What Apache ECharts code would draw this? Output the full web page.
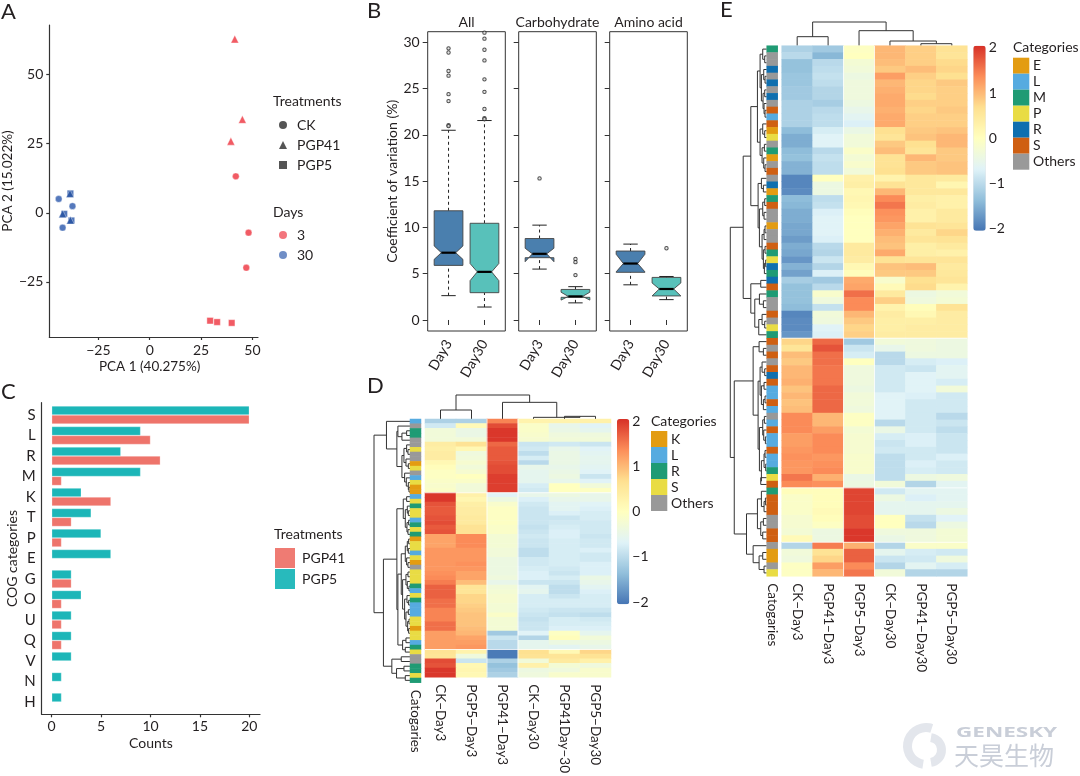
<!DOCTYPE html>
<html lang="en" style="background: #FFFFFF;height: 100%">
<head>
  <meta charset="utf-8" />
  <title>PCA, CV, COG and heatmap panels</title>
  <script src="https://cdn.jsdelivr.net/npm/echarts@6/dist/echarts.min.js"></script>
</head>
<body style="margin: 0;height: 100%">
<div id="chart" style="width: 1080px;height: 776px"></div>
<script>
// panel A, [PCA1, PCA2]
const pcaCkDay3 = [[41.9, 13.2], [48.1, -7.2], [47, -19.9]];
const pcaPgp41Day3 = [[41.4, 62.9], [45.1, 33.8], [39.5, 25.9]];
const pcaPgp5Day3 = [[29.4, -39.1], [32.8, -39.6], [39.9, -39.9]];
const pcaCkDay30 = [[-44.3, 5], [-37.6, 2.4], [-42.4, -5.4]];
const pcaPgp41Day30 = [[-38.8, 6.9], [-42.4, -0.4], [-38.6, -2.7]];
const pcaPgp5Day30 = [[-38.6, 7], [-41.6, -0.4], [-38.1, -2.8]];

// panel B, [pos, low, q1, notchLow, median, notchUp, q3, high]
const dayLabels = ['Day3', 'Day30'];
const boxAll = [[1, 2.63, 5.9, 6.55, 7.27, 8, 11.8, 20.5], [2, 1.4, 2.95, 4.25, 5.2, 6.1, 10.45, 21.55]];
const boxCarbo = [[1, 5.5, 6.73, 6.3, 7.15, 7.75, 8.8, 10.25], [2, 1.85, 2.45, 2.15, 2.55, 3, 3.3, 3.6]];
const boxAmino = [[1, 3.8, 5.15, 5.2, 6.1, 7.1, 7.45, 8.2], [2, 2.2, 2.6, 2.6, 3.35, 4, 4.6, 4.7]];
const outAll = [[1, 29.35], [1, 28.9], [1, 26.9], [1, 26.4], [1, 24.4], [1, 23.65], [1, 21.05], [1, 20.95],
  [2, 31.05], [2, 30.4], [2, 29.2], [2, 28.05], [2, 26], [2, 24.65], [2, 22.8], [2, 21.8], [2, 21.7]];
const outCarbo = [[1, 15.3], [2, 6.6], [2, 6.25], [2, 4.85]];
const outAmino = [[2, 7.75]];
const cvTicks = [0, 5, 10, 15, 20, 25, 30];

// panel C
const cogCats = ['S', 'L', 'R', 'M', 'K', 'T', 'P', 'E', 'G', 'O', 'U', 'Q', 'V', 'N', 'H'];
const cogPgp5 = [20, 9, 7, 9, 3, 4, 5, 6, 2, 3, 2, 2, 2, 1, 1];
const cogPgp41 = [20, 10, 11, 1, 6, 2, 1, 0, 2, 1, 1, 1, 0, 0, 0];

// panel D
const colsD = ['CK−Day3', 'PGP5−Day3', 'PGP41−Day3', 'CK−Day30', 'PGP41Day−30', 'PGP5−Day30'];
const annoD = 'LORROOSOOKSOLSKK' + 'LSRSSLRSRKSSLSKOSSSRLSRLLLSSKSSLRS' + 'OORRSR';
const heatD = [
  [-1.1, -1.1, 1.4, 0.25, 0.25, 0.3], [-0.8, 0.1, 1.8, -0.1, -0.5, -0.65], [-0.3, -0.45, 1.95, -0.1, -0.45, -0.55],
  [-0.3, -0.45, 1.95, -0.15, -0.35, -0.35], [-0.3, -0.3, 1.95, -0.2, -0.3, -0.3], [0.4, 0.6, 1.6, -0.85, -0.8, -0.85],
  [0.35, 0.15, 1.7, -0.8, -0.5, -0.65], [0.4, -0.35, 1.7, -0.95, -0.45, -0.6], [0.4, -0.3, 1.7, -0.75, -0.45, -0.55],
  [0.15, -0.2, 1.75, -1, -0.45, -0.55], [0.05, -0.3, 1.8, -0.5, -0.5, -0.6], [-0.05, -0.2, 1.8, -0.55, -0.45, -0.65],
  [-0.05, 0, 1.9, -0.55, -0.4, -0.85], [-0.1, -0.1, 1.9, -0.55, -0.5, -0.65], [-0.15, -0.3, 1.9, -0.75, 0, -0.3],
  [-0.1, -0.3, 1.9, -0.8, 0, -0.05],
  [1.95, 0.3, -0.65, -0.5, -0.4, -0.5], [1.95, 0.2, -0.4, -0.7, -0.5, -0.5], [1.75, 0.35, -0.15, -0.8, -0.6, -0.65],
  [1.7, 0.4, -0.05, -0.85, -0.6, -0.7], [1.7, 0.4, -0.05, -0.85, -0.7, -0.75], [1.75, 0.45, -0.05, -0.85, -0.85, -0.75],
  [1.8, 0.45, -0.05, -0.85, -0.8, -0.8], [1.7, 0.6, -0.1, -0.9, -0.75, -0.8], [1.75, 0.6, -0.1, -0.85, -0.7, -0.8],
  [1.15, 1.35, -0.25, -0.8, -0.7, -0.85], [1.15, 1.35, -0.25, -0.85, -0.75, -0.8], [1.15, 1.35, -0.25, -0.85, -0.75, -0.8],
  [1.25, 1.25, -0.3, -0.95, -0.75, -0.7], [1.25, 1.25, -0.3, -0.95, -0.75, -0.8], [1.25, 1.25, -0.4, -0.8, -0.75, -0.8],
  [1.25, 1.3, -0.4, -0.8, -0.75, -0.7], [1.25, 1.25, -0.4, -0.75, -0.8, -0.7], [1.3, 1.15, -0.4, -0.7, -0.85, -0.7],
  [1.35, 1.15, -0.35, -0.7, -0.75, -0.45], [1.45, 0.95, -0.5, -0.85, -0.85, -0.5], [1.65, 0.55, -0.3, -0.6, -0.95, -0.6],
  [1.65, 0.55, -0.25, -0.55, -0.95, -0.7], [1.65, 0.75, -0.2, -0.75, -0.85, -0.75], [1.55, 0.75, -0.2, -0.75, -0.75, -0.75],
  [1.55, 0.8, -0.25, -0.75, -0.75, -0.75], [1.4, 0.85, -0.25, -0.8, -0.85, -0.85], [1.4, 0.9, -0.1, -0.85, -0.9, -0.95],
  [1.4, 0.9, -0.25, -0.9, -0.75, -0.8], [1.55, 0.9, -0.25, -0.85, -0.75, -0.75], [1.55, 0.95, -0.25, -0.85, -0.7, -0.7],
  [1.2, 1, -1.2, -0.65, -0.05, -0.55], [1.2, 1.15, -0.85, -1.05, 0.05, -0.3], [1.2, 1.2, -1, -0.55, -0.4, -0.4],
  [1.2, 1.25, -1, -0.55, -0.6, -0.5],
  [0.6, 0.25, -1.95, 0.65, 0.15, 0.75], [0.55, -0.35, -1.95, 0.6, 0.55, 0.6], [1.8, -0.85, -1.1, -0.3, 0.45, 0.3],
  [1.75, 0.15, -1.3, 0.3, -0.25, -0.35], [1.95, 0.2, -1.2, -0.4, -0.35, -0.15], [1.95, 0.15, -1.1, -0.35, -0.15, -0.15]
];
// trees are [height, child, child], a leaf is 0 and leaves run in row order
const treeColsD = [72, [27, 0, 0], [50, 0, [5, 0, [8, 0, 0]]]];
const treeRowsD = [107,
  [70, 0, [39, [36, 0, [24, [10, 0, 0], 0]],
    [24, [18, [10, 0, [6, 0, 0]], [12, 0, [5, 0, 0]]], [16, 0, [11, 0, [5, 0, [3, 0, 0]]]]]]],
  [79,
    [39, [20, [10, 0, 0], [14, [8, 0, [5, 0, 0]], [9, [4, 0, 0], [6, 0, 0]]]],
      [36,
        [26, [14, [8, [4, 0, 0], [5, 0, 0]], [10, 0, [6, 0, 0]]],
          [22, [12, [6, 0, 0], [8, 0, [3, 0, 0]]], [16, [9, 0, [4, 0, 0]], [12, [5, 0, 0], [7, [3, 0, 0], [4, 0, 0]]]]]],
        [22, [12, 0, 0], [14, 0, 0]]]],
    [54, [26, 0, 0], [40, [18, 0, 0], [14, 0, 0]]]]];
const gapRowsD = [16, 50];
const gapColsD = [2, 3];

// panel E
const colsE = ['CK−Day3', 'PGP41−Day3', 'PGP5−Day3', 'CK−Day30', 'PGP41−Day30', 'PGP5−Day30'];
const annoE = 'MOOROROROSLSEPOMEOSOREMSOOEOOSMPRMRSMOOSOPM' + 'SOSOSRSLLSLOLSLLSLLMPS' + 'MSSSOOSS' + 'OEEOP';
const heatE = [
  [-1.1, -1.2, -0.05, 1, 0.8, 0.6], [-1, -1.4, 0, 1, 0.8, 0.55], [-1.3, -1, -0.25, 0.95, 0.8, 0.7],
  [-1.3, -0.95, -0.3, 0.85, 0.95, 0.75], [-1.25, -0.9, -0.4, 1.2, 0.8, 0.65], [-1.25, -0.95, -0.35, 1, 0.75, 0.85],
  [-1.2, -1.05, -0.35, 1.05, 0.75, 0.8], [-1.2, -1.05, -0.35, 1.1, 0.7, 0.8], [-1.1, -1.15, -0.4, 1.1, 0.8, 0.8],
  [-1.1, -1, -0.5, 1.05, 0.75, 0.85], [-1.1, -0.95, -0.6, 1.1, 0.8, 0.8], [-1.1, -0.95, -0.7, 1.1, 0.8, 0.8],
  [-1.35, -0.75, -0.45, 0.65, 0.85, 0.9], [-1.5, -0.65, -0.3, 0.55, 0.9, 1], [-1.5, -0.65, -0.3, 0.85, 0.65, 1],
  [-1.35, -1, -0.1, 0.95, 0.55, 0.85], [-1.3, -0.9, -0.25, 0.6, 1, 0.85], [-1.45, -0.95, -0.15, 0.6, 0.85, 0.9],
  [-1.45, -0.95, -0.3, 0.65, 0.85, 0.9], [-1.85, 0, 0.3, 0.25, 0.5, 0.45], [-1.85, -0.4, 0.35, 0.6, 0.5, 0.2],
  [-1.8, -0.4, 0.15, 1, 0.5, 0.5], [-1.35, -0.95, 0.2, 1.35, 0.35, 0.3], [-1.4, -0.9, 0.15, 1.5, 0.4, 0.3],
  [-1.5, -0.7, 0.05, 1.3, 0.3, 0.45], [-1.5, -0.65, 0, 1.25, 0.3, 0.45], [-1.55, -0.65, 0, 1.15, 0.6, 0.55],
  [-1.55, -0.65, 0, 1.05, 0.45, 0.75], [-1.65, -0.7, 0, 0.95, 0.55, 0.6], [-1.5, -1, 0.45, 0.9, 0.35, 0.45],
  [-1.55, -1.05, 0.45, 1.1, 0.35, 0.3], [-1.7, -0.85, 0.4, 0.6, 0.55, 0.55], [-1.45, -1.05, 0.15, 0.9, 0.95, 0.45],
  [-1.6, -0.7, 0.05, 0.85, 0.85, 0.5], [-1.15, -1.2, 1.1, -0.15, 0.65, 0.55], [-1.3, -1, 1.15, 0.1, 0.7, 0.25],
  [-1.3, -0.15, 1.55, 0.45, -0.4, -0.3], [-1.3, -0.35, 1.35, 0.8, -0.35, -0.25], [-1.35, -0.9, 1.35, 0.25, 0.05, 0.6],
  [-1.85, -0.3, 1, 0.4, 0.15, 0.4], [-1.8, -0.35, 0.85, 0.35, 0.35, 0.4], [-1.8, -0.65, 0.75, 0.35, 0.4, 0.4],
  [-1.7, -0.7, 0.8, 0.4, 0.4, 0.4],
  [0.75, 1.6, -1.2, -0.3, -0.35, -0.4], [0.55, 1.75, -0.85, -0.5, -0.35, -0.4], [0.95, 1.55, -0.75, -1, -0.4, -0.4],
  [0.85, 1.55, 0, -1, -0.75, -0.7], [1, 1.5, -0.35, -0.8, -0.85, -0.6], [1, 1.5, -0.35, -0.8, -0.65, -0.6],
  [1.05, 1.5, -0.35, -0.8, -0.65, -0.75], [0.9, 1.6, -0.4, -0.8, -0.65, -0.3], [1, 1.6, -0.3, -0.65, -0.7, -0.8],
  [0.9, 1.6, -0.3, -0.65, -0.8, -0.8], [0.95, 1.6, -0.35, -0.65, -0.8, -0.8], [1.35, 1, -0.05, -0.65, -0.8, -1],
  [1.35, 1, -0.05, -1, -0.8, -0.85], [1.35, 1.2, -0.25, -0.45, -0.8, -0.95], [1.2, 1.35, -0.2, -0.75, -0.7, -0.85],
  [1.2, 1.35, -0.2, -0.85, -0.7, -0.85], [1.25, 1.35, -0.2, -0.8, -0.8, -0.85], [1.3, 1.25, -0.15, -0.95, -0.8, -0.7],
  [1.25, 1.3, -0.15, -0.95, -0.7, -0.8], [1.25, 1.35, -0.15, -0.95, -0.75, -0.8], [1.5, 1.05, -0.45, -0.95, -0.4, -0.35],
  [1.35, 1.3, -0.4, -0.3, -1.05, -0.6],
  [0.05, 0.05, 1.85, -0.8, -0.6, -0.6], [-0.1, 0.05, 1.85, -0.4, -0.7, -0.6], [-0.1, 0.05, 1.85, -0.55, -0.55, -0.55],
  [-0.1, 0.1, 1.85, -0.55, -0.55, -0.4], [-0.2, 0.05, 1.8, 0, -0.9, -0.65], [-0.2, -0.05, 1.8, 0, -1, -0.4],
  [-0.25, -0.4, 1.95, -0.35, -0.35, -0.25], [0.1, -0.4, 1.95, -0.45, -0.35, -0.25],
  [-1.05, 1.45, 1.05, -1.05, -0.1, -0.1], [-0.3, 0.6, 1.65, -0.55, -0.75, -0.8], [-0.35, 0.75, 1.65, -0.85, -0.8, -0.35],
  [-0.05, 1.2, 1.35, -1.05, -0.6, -0.75], [-0.05, 1, 1.5, -0.3, -1.05, -1.05]
];
const treeColsE = [71, [27, 0, 0], [45, 0, [14, 0, [6, 0, 0]]]];
const treeRowsE = [110,
  [71,
    [48,
      [28,
        [20, [12, 0, [6, 0, 0]], [16, [9, 0, [5, 0, 0]], [11, [6, 0, 0], [8, 0, [5, 0, 0]]]]],
        [20, [12, 0, [6, 0, 0]], [14, [7, 0, 0], [9, 0, [5, 0, 0]]]]],
      [26, [16, 0, [10, 0, 0]],
        [22, [12, [6, 0, 0], [8, 0, 0]], [14, [8, [5, 0, 0], 0], [10, [5, 0, 0], [7, [3, 0, 0], 0]]]]]],
    [48, [18, 0, 0], [36, [22, 0, [10, 0, 0]], [24, [14, 0, [6, 0, 0]], 0]]]],
  [98,
    [41, [23, 0, [10, 0, 0]],
      [26, [20, [14, 0, [6, 0, 0]], [16, [8, 0, 0], [10, [5, 0, 0], 0]]],
        [22, [12, [7, 0, 0], [9, 0, [4, 0, 0]]], [16, [8, [5, 0, 0], [3, 0, 0]], [18, 0, 0]]]]],
    [61, [28, [16, 0, [8, [4, 0, 0], 0]], [18, [10, 0, 0], [12, 0, 0]]], [41, 0, [23, [12, 0, 0], [8, 0, 0]]]]]];
const gapRowsE = [43, 65, 73];
const gapColsE = [2, 3];

const barTicks = [-2, -1, 0, 1, 2];
const rampColors = ['#4575B4', '#91BFDB', '#E0F3F8', '#FFFFBF', '#FEE090', '#FC8D59', '#D73027'];
const catColors = { E: '#E39C12', K: '#E39C12', L: '#56ABE0', M: '#1F9B74', P: '#E9DC44', R: '#0F6FAF', S: '#CF5F12', O: '#999999' };
const catColorsD = Object.assign({}, catColors, { R: '#1F9B74', S: '#E9DC44' });
const legendD = [['K', 'K'], ['L', 'L'], ['R', 'R'], ['S', 'S'], ['O', 'Others']];
const legendE = [['E', 'E'], ['L', 'L'], ['M', 'M'], ['P', 'P'], ['R', 'R'], ['S', 'S'], ['O', 'Others']];

const FONT = 'Lato';
const INK = '#231F20';
const RED = '#F0525C';
const BLUE = '#4C72B8';
const lineDark = { color: '#333', width: 1.2 };

const grids = [], xAxes = [], yAxes = [], series = [], graphics = [];

// every grid owns exactly one x and one y axis, so the index is shared
function addPanel(left, top, right, bottom, x, y, extra) {
  const i = grids.length;
  grids.push(Object.assign({ left, top, width: right - left, height: bottom - top }, extra));
  xAxes.push(Object.assign({ gridIndex: i, splitLine: { show: false } }, x));
  yAxes.push(Object.assign({ gridIndex: i, splitLine: { show: false } }, y));
  return i;
}
function text(x, y, str, size, opts) {
  graphics.push({ type: 'text', x, y, silent: true,
    style: Object.assign({ text: str, fontSize: size, fontFamily: FONT, fill: INK, textVerticalAlign: 'middle' }, opts) });
}
const hidden = { show: false };
const minus = v => String(v).replace('-', '−');

// panel A
const gridA = addPanel(44, 25, 258, 337,
  { type: 'value', min: -48.9, max: 52.7, name: 'PCA 1 (40.275%)', nameLocation: 'middle', nameGap: 23,
    nameTextStyle: { fontSize: 13.5, color: INK, padding: [0, 8, 0, 0] },
    axisLine: { lineStyle: lineDark, onZero: false }, axisTick: { customValues: [-25, 0, 25, 50], length: 3, lineStyle: lineDark },
    axisLabel: { customValues: [-25, 0, 25, 50], formatter: minus, fontSize: 14, color: INK, margin: 6 } },
  { type: 'value', min: -45, max: 68, name: 'PCA 2 (15.022%)', nameLocation: 'middle', nameGap: 27,
    nameTextStyle: { fontSize: 13.5, color: INK },
    axisLine: { lineStyle: lineDark, onZero: false }, axisTick: { customValues: [-25, 0, 25, 50], length: 3, lineStyle: lineDark },
    axisLabel: { customValues: [-25, 0, 25, 50], formatter: minus, fontSize: 14, color: INK, margin: 6 } });
[['CK', 'circle', 6.8, pcaCkDay3, RED, 0.95], ['CK', 'circle', 6.8, pcaCkDay30, BLUE, 0.95],
 ['PGP5', 'rect', 6.5, pcaPgp5Day3, RED, 0.95], ['PGP5', 'rect', 6.5, pcaPgp5Day30, '#3F68B2', 0.9],
 ['PGP41', 'triangle', 7.8, pcaPgp41Day3, RED, 0.95], ['PGP41', 'triangle', 7.8, pcaPgp41Day30, '#2A55A3', 0.9]].forEach(s => {
  series.push({ type: 'scatter', name: s[0], xAxisIndex: gridA, yAxisIndex: gridA, data: s[3], symbol: s[1], symbolSize: s[2],
    itemStyle: { color: s[4], opacity: s[5], borderColor: '#fff', borderWidth: 0.4 } });
});
series.push({ type: 'scatter', name: '3', xAxisIndex: gridA, yAxisIndex: gridA, data: [], itemStyle: { color: RED } });
series.push({ type: 'scatter', name: '30', xAxisIndex: gridA, yAxisIndex: gridA, data: [], itemStyle: { color: BLUE } });

// panel B
function renderBox(p, api) {
  const v = i => api.value(i), pos = v(0), c = (x, y) => api.coord([x, y]);
  const fill = pos === 1 ? '#4A7FAE' : '#58C1BA';
  const seg = (a, b, dashed) => ({ type: 'line', shape: { x1: a[0], y1: a[1], x2: b[0], y2: b[1] },
    style: { stroke: '#222', lineWidth: 1, lineDash: dashed ? [3, 3] : null } });
  return { type: 'group', children: [
    seg(c(pos, v(1)), c(pos, v(2)), true), seg(c(pos, v(6)), c(pos, v(7)), true),
    seg(c(pos - 0.2, v(1)), c(pos + 0.2, v(1))), seg(c(pos - 0.2, v(7)), c(pos + 0.2, v(7))),
    { type: 'polygon', shape: { points: [
      c(pos - 0.4, v(2)), c(pos + 0.4, v(2)), c(pos + 0.4, v(3)), c(pos + 0.2, v(4)), c(pos + 0.4, v(5)), c(pos + 0.4, v(6)),
      c(pos - 0.4, v(6)), c(pos - 0.4, v(5)), c(pos - 0.2, v(4)), c(pos - 0.4, v(3))] },
      style: { fill, stroke: '#444', lineWidth: 0.9 } },
    { type: 'line', shape: { x1: c(pos - 0.2, v(4))[0], y1: c(pos, v(4))[1], x2: c(pos + 0.2, v(4))[0], y2: c(pos, v(4))[1] },
      style: { stroke: '#000', lineWidth: 2.2 } }
  ] };
}
[[427.7, 505.3, boxAll, outAll, 'All'], [518.7, 596.3, boxCarbo, outCarbo, 'Carbohydrate'], [609.7, 687.3, boxAmino, outAmino, 'Amino acid']].forEach((b, k) => {
  const g = addPanel(b[0], 31.7, b[1], 331,
    { type: 'value', min: 0.42, max: 2.58, axisLine: hidden,
      axisTick: { customValues: [1, 2], length: 5, lineStyle: { color: '#333' } },
      axisLabel: { customValues: [1, 2], formatter: v => dayLabels[v - 1], rotate: 60, fontSize: 14, color: INK, margin: 10 } },
    { type: 'value', min: -1.19, max: 31.15, axisLine: hidden,
      name: k === 0 ? 'Coefficient of variation (%)' : '', nameLocation: 'middle', nameGap: 28, nameTextStyle: { fontSize: 14, color: INK },
      axisTick: { customValues: cvTicks, length: 5, lineStyle: { color: '#333' } },
      axisLabel: k === 0 ? { customValues: cvTicks, fontSize: 14, color: INK, margin: 8 } : { show: false } },
    { show: true, borderColor: '#333', borderWidth: 1, backgroundColor: 'transparent' });
  series.push({ type: 'custom', xAxisIndex: g, yAxisIndex: g, renderItem: renderBox, data: b[2], silent: true, encode: { x: 0, y: [1, 7] } });
  series.push({ type: 'scatter', xAxisIndex: g, yAxisIndex: g, data: b[3], symbol: 'circle', symbolSize: 3.4, silent: true,
    itemStyle: { color: '#ddd', borderColor: '#222', borderWidth: 1 } });
  text((b[0] + b[1]) / 2, 22, b[4], 14, { textAlign: 'center' });
});

// panel C, outer grid holds the axis lines, inner one the bars
const countsTicks = [0, 5, 10, 15, 20];
addPanel(41.7, 402.7, 260, 714.3,
  { type: 'value', min: -1.01, max: 21.08, name: 'Counts', nameLocation: 'middle', nameGap: 22, nameTextStyle: { fontSize: 14, color: INK },
    axisLine: { lineStyle: lineDark, onZero: false }, axisTick: { customValues: countsTicks, length: 3, lineStyle: lineDark },
    axisLabel: { customValues: countsTicks, fontSize: 14, color: INK, margin: 5 } },
  { type: 'value', min: 0, max: 1, axisLine: { lineStyle: lineDark, onZero: false }, axisTick: hidden, axisLabel: hidden,
    name: 'COG categories', nameLocation: 'middle', nameGap: 22, nameTextStyle: { fontSize: 14, color: INK } });
const gridC = addPanel(41.7, 404.75, 260, 712.25,
  { type: 'value', min: -1.01, max: 21.08, axisLine: hidden, axisTick: hidden, axisLabel: hidden },
  { type: 'category', inverse: true, data: cogCats, axisLine: hidden, axisTick: { length: 3, alignWithLabel: true, lineStyle: lineDark },
    axisLabel: { fontSize: 15, color: INK, margin: 6 } });
[['PGP5', cogPgp5, '#1CB6B8'], ['PGP41', cogPgp41, '#EE746B']].forEach(s => {
  series.push({ type: 'bar', name: s[0], xAxisIndex: gridC, yAxisIndex: gridC, data: s[1], barWidth: 9, barGap: 0,
    itemStyle: { color: s[2], borderColor: 'rgba(255,255,255,0.45)', borderWidth: 0.6 } });
});

// heatmap panels
function treeSegments(tree) {
  let leaf = 0;
  const segs = [];
  (function walk(n) {
    if (n === 0) return { pos: leaf++, h: 0 };
    const a = walk(n[1]), b = walk(n[2]);
    segs.push([a.h, a.pos, n[0], a.pos], [b.h, b.pos, n[0], b.pos], [n[0], a.pos, n[0], b.pos]);
    return { pos: (a.pos + b.pos) / 2, h: n[0] };
  })(tree);
  return segs;
}
function renderSeg(p, api) {
  const a = api.coord([api.value(0), api.value(1)]), b = api.coord([api.value(2), api.value(3)]);
  return { type: 'line', shape: { x1: a[0], y1: a[1], x2: b[0], y2: b[1] }, style: { stroke: '#333', lineWidth: 1 } };
}
function renderGap(p, api) {
  const cs = p.coordSys, s = api.size([1, 1]);
  if (api.value(0) === 0) {
    const y = api.coord([0, api.value(1)])[1] - s[1] / 2;
    return { type: 'line', shape: { x1: cs.x, y1: y, x2: cs.x + cs.width, y2: y }, style: { stroke: '#fff', lineWidth: 0.8 } };
  }
  const x = api.coord([api.value(1), 0])[0] - s[0] / 2;
  return { type: 'line', shape: { x1: x, y1: cs.y, x2: x, y2: cs.y + cs.height }, style: { stroke: '#fff', lineWidth: 0.8 } };
}
const heatSeries = [];
function addHeat(h) {
  const n = h.values.length, rowNames = h.values.map((r, i) => String(i));
  const colLabel = { interval: 0, rotate: -90, fontSize: 13.5, color: INK, margin: 7 };
  const gTop = addPanel(h.x0, h.topY, h.x1, h.y0,
    { type: 'value', min: -0.5, max: 5.5, show: false }, { type: 'value', min: 0, max: h.topMax, show: false });
  series.push({ type: 'custom', xAxisIndex: gTop, yAxisIndex: gTop, renderItem: renderSeg, silent: true,
    data: treeSegments(h.treeCols).map(s => [s[1], s[0], s[3], s[2]]), encode: { x: [0, 2], y: [1, 3] } });
  const gLeft = addPanel(h.dendroX, h.y0, h.annoX0, h.y1,
    { type: 'value', min: 0, max: h.leftMax, inverse: true, show: false },
    { type: 'value', min: -0.5, max: n - 0.5, inverse: true, show: false });
  series.push({ type: 'custom', xAxisIndex: gLeft, yAxisIndex: gLeft, renderItem: renderSeg, silent: true,
    data: treeSegments(h.treeRows), encode: { x: [0, 2], y: [1, 3] } });
  const gAnno = addPanel(h.annoX0, h.y0, h.annoX1, h.y1,
    { type: 'category', data: ['Catogaries'], axisLine: hidden, axisTick: hidden, axisLabel: colLabel },
    { type: 'category', inverse: true, data: rowNames, show: false });
  series.push({ type: 'heatmap', xAxisIndex: gAnno, yAxisIndex: gAnno, silent: true,
    data: h.anno.split('').map((c, i) => ({ value: [0, i, 0], itemStyle: { color: h.colors[c] } })) });
  const gHeat = addPanel(h.x0, h.y0, h.x1, h.y1,
    { type: 'category', data: h.cols, axisLine: hidden, axisTick: hidden, axisLabel: colLabel },
    { type: 'category', inverse: true, data: rowNames, show: false });
  const data = [];
  h.values.forEach((row, i) => row.forEach((v, j) => data.push([j, i, v])));
  heatSeries.push(series.length);
  series.push({ type: 'heatmap', xAxisIndex: gHeat, yAxisIndex: gHeat, data, silent: true });
  series.push({ type: 'custom', xAxisIndex: gHeat, yAxisIndex: gHeat, renderItem: renderGap, silent: true, z: 5,
    data: h.gapRows.map(r => [0, r]).concat(h.gapCols.map(c => [1, c])) });
  // colour bar ticks come from a value axis over the bar
  addPanel(h.barX0, h.barY0, h.barX1, h.barY1,
    { type: 'value', min: 0, max: 1, show: false },
    { type: 'value', min: -2.05, max: 2.05, position: 'right', axisLine: hidden, axisTick: hidden,
      axisLabel: { customValues: barTicks, formatter: minus, fontSize: 14, color: INK, margin: 3 } });
  text(h.legendX, h.legendTitleY, 'Categories', 14, {});
  h.legend.forEach((l, i) => {
    graphics.push({ type: 'rect', silent: true, shape: { x: h.legendX, y: h.legendY + i * 16, width: 16.3, height: 16 }, style: { fill: h.colors[l[0]] } });
    text(h.legendX + 20, h.legendY + i * 16 + 8, l[1], 14, {});
  });
}
addHeat({ values: heatD, cols: colsD, anno: annoD, colors: catColorsD, treeCols: treeColsD, treeRows: treeRowsD,
  gapRows: gapRowsD, gapCols: gapColsD, legend: legendD,
  x0: 425, x1: 611, y0: 419, y1: 682.7, topY: 395, topMax: 72, dendroX: 373, annoX0: 410, annoX1: 421, leftMax: 110,
  barX0: 617, barX1: 629.3, barY0: 419, barY1: 604.3, legendX: 651, legendTitleY: 421, legendY: 431 });
addHeat({ values: heatE, cols: colsE, anno: annoE, colors: catColors, treeCols: treeColsE, treeRows: treeRowsE,
  gapRows: gapRowsE, gapCols: gapColsE, legend: legendE,
  x0: 781.7, x1: 967.3, y0: 45.7, y1: 576.3, topY: 22, topMax: 71, dendroX: 729.3, annoX0: 766.7, annoX1: 777.7, leftMax: 113,
  barX0: 973.3, barX1: 985.7, barY0: 45.7, barY1: 230.7, legendX: 1013, legendTitleY: 47, legendY: 57.7 });

// panel letters and legend titles
[['A', 1, 12], ['B', 367, 11], ['C', 1, 392], ['D', 367, 386], ['E', 720, 10]].forEach(l => text(l[1], l[2], l[0], 22, {}));
text(273, 101, 'Treatments', 14, {});
text(273, 212, 'Days', 14, {});
text(274, 534, 'Treatments', 14, {});

// watermark
graphics.push({ type: 'sector', silent: true, shape: { cx: 926, cy: 746, r: 23, r0: 14, startAngle: Math.PI * 0.55, endAngle: Math.PI * 1.6 }, style: { fill: '#E3E6EC' } });
graphics.push({ type: 'sector', silent: true, shape: { cx: 929, cy: 750, r: 17, r0: 8, startAngle: -Math.PI * 0.45, endAngle: Math.PI * 0.45 }, style: { fill: '#E3E6EC' } });
graphics.push({ type: 'text', x: 956, y: 733, scaleX: 1.5, silent: true,
  style: { text: 'GENESKY', fontSize: 15, fontWeight: 'bold', fontFamily: 'Noto Sans', fill: '#C9CED8', textVerticalAlign: 'middle' } });
text(954, 755, '天昊生物', 25, { fill: '#C9CED8', fontFamily: 'Noto Sans CJK SC' });

const legendText = { fontSize: 14, color: INK, fontFamily: FONT, padding: [0, 0, 0, 5] };
const option = {
  animation: false,
  textStyle: { fontFamily: FONT },
  grid: grids,
  xAxis: xAxes,
  yAxis: yAxes,
  series,
  graphic: graphics,
  legend: [
    { left: 279, top: 118, orient: 'vertical', selectedMode: false, itemWidth: 8, itemHeight: 8, itemGap: 6, textStyle: legendText, padding: 0,
      data: [{ name: 'CK', icon: 'circle', itemStyle: { color: '#555', borderWidth: 0, opacity: 1 } },
             { name: 'PGP41', icon: 'triangle', itemStyle: { color: '#555', borderWidth: 0, opacity: 1 } },
             { name: 'PGP5', icon: 'rect', itemStyle: { color: '#555', borderWidth: 0, opacity: 1 } }] },
    { left: 279, top: 228, orient: 'vertical', selectedMode: false, itemWidth: 8, itemHeight: 8, itemGap: 6, textStyle: legendText, padding: 0,
      data: [{ name: '3', icon: 'circle', itemStyle: { color: RED } }, { name: '30', icon: 'circle', itemStyle: { color: BLUE } }] },
    { left: 275, top: 548, orient: 'vertical', selectedMode: false, itemWidth: 20, itemHeight: 20, itemGap: 1, textStyle: { fontSize: 14, color: INK, fontFamily: FONT, padding: [0, 0, 0, 2] }, padding: 0,
      data: [{ name: 'PGP41', icon: 'rect', itemStyle: { color: '#EE746B', borderWidth: 0 } }, { name: 'PGP5', icon: 'rect', itemStyle: { color: '#1CB6B8', borderWidth: 0 } }] }
  ],
  visualMap: [
    { type: 'continuous', seriesIndex: heatSeries[0], min: -2, max: 2, left: 617, top: 419, itemWidth: 12.3, itemHeight: 185.3,
      padding: 0, calculable: false, inRange: { color: rampColors } },
    { type: 'continuous', seriesIndex: heatSeries[1], min: -2, max: 2, left: 973.3, top: 45.7, itemWidth: 12.4, itemHeight: 185,
      padding: 0, calculable: false, inRange: { color: rampColors } }
  ]
};

const chart = echarts.init(document.getElementById('chart'));
chart.setOption(option);
window.addEventListener('resize', () => chart.resize());
</script>
</body>
</html>
